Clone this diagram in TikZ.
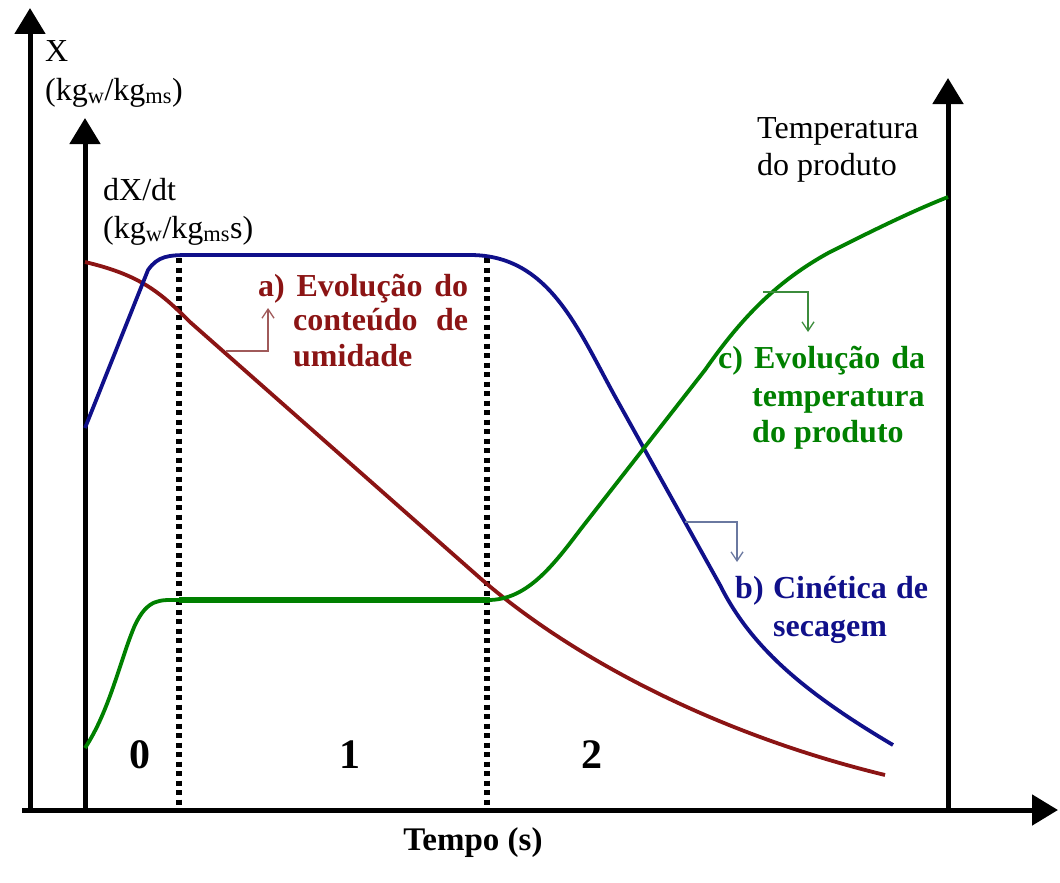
\documentclass[tikz,border=0pt]{standalone}
\usepackage{fontspec}
\setmainfont{Liberation Serif}
\usetikzlibrary{arrows.meta}
\definecolor{maroon}{HTML}{8B1414}
\definecolor{navy}{HTML}{10108A}
\definecolor{dgreen}{HTML}{008000}
\definecolor{maroonl}{HTML}{A05A5A}
\definecolor{greenl}{HTML}{3C8C3C}
\definecolor{navyl}{HTML}{6A78A0}
\tikzset{
  axis/.style={line width=5pt,-{Triangle[length=26pt,width=30pt]}},
  curve/.style={line width=3.8pt},
  divider/.style={line width=5.5pt,dash pattern=on 5pt off 4.5pt},
  lbl/.style={inner sep=0pt,anchor=base west,font=\fontsize{32}{36}\selectfont},
  blbl/.style={lbl,font=\fontsize{32}{36}\selectfont\bfseries},
  numlbl/.style={inner sep=0pt,anchor=base,font=\fontsize{42}{44}\selectfont\bfseries},
  pointer/.style={line width=1.3pt,-{Straight Barb[length=9pt,width=12pt]}}
}
\begin{document}
\begin{tikzpicture}[x=1pt,y=-1pt]
\useasboundingbox (0,0) rectangle (1060,883);
% axes
\coordinate (o1) at (30,810);
\coordinate (t1) at (30,8);
\coordinate (o2) at (85,810);
\coordinate (t2) at (85,118);
\coordinate (o3) at (948,810);
\coordinate (t3) at (948,78);
\coordinate (ox) at (22,810);
\coordinate (tx) at (1058,810);
\draw[axis] (o1) -- (t1);
\draw[axis] (o2) -- (t2);
\draw[axis] (o3) -- (t3);
\draw[axis] (ox) -- (tx);
% dividers
\coordinate (d1a) at (179,258);
\coordinate (d1b) at (179,808);
\coordinate (d2a) at (487,258);
\coordinate (d2b) at (487,808);
\draw[divider] (d1a) -- (d1b);
\draw[divider] (d2a) -- (d2b);
% red curve
\draw[curve,maroon] (85,262) .. controls (140,275) and (160,292) .. (190,322)
  -- (480,578) .. controls (560,648) and (700,730) .. (885,775);
% blue curve
\draw[curve,navy] (85,428) -- (148,270) .. controls (158,256) and (168,255) .. (190,255)
  -- (470,255) .. controls (550,255) and (578,330) .. (617,400)
  -- (720,585) .. controls (750,645) and (800,690) .. (893,745);
% green curve
\draw[curve,dgreen] (85,748) .. controls (110,710) and (120,660) .. (135,625)
  .. controls (148,598) and (160,600) .. (179,600);
\draw[dgreen,line width=6pt] (179,600) -- (490,600);
\draw[curve,dgreen] (488,600) .. controls (525,600) and (550,570) .. (580,530)
  -- (705,370) .. controls (740,320) and (775,282) .. (830,252)
  .. controls (870,232) and (910,212) .. (948,197);
% axis labels
\node[lbl] (xl1) at (45,62) {X};
\node[lbl] (xl2) at (45,100) {(kg\textsubscript{w}/kg\textsubscript{ms})};
\node[lbl] (dl1) at (103,200) {dX/dt};
\node[lbl] (dl2) at (103,238) {(kg\textsubscript{w}/kg\textsubscript{ms}s)};
\node[lbl] (tl1) at (757,138) {Temperatura};
\node[lbl] (tl2) at (757,175) {do produto};
% phase numbers
\node[numlbl] (p0) at (140,768) {0};
\node[numlbl] (p1) at (350,768) {1};
\node[numlbl] (p2) at (592,768) {2};
\node[blbl,anchor=base,font=\fontsize{33}{36}\selectfont\bfseries] (tempo) at (473,850) {Tempo (s)};
% label a
\node[blbl,maroon] (a1) at (258,296) {\makebox[210pt][s]{a) Evolução do}};
\node[blbl,maroon] (a2) at (293,330) {\makebox[175pt][s]{conteúdo de}};
\node[blbl,maroon] (a3) at (293,366) {umidade};
% label c
\node[blbl,dgreen] (c1) at (718,368) {\makebox[207pt][s]{c) Evolução da}};
\node[blbl,dgreen] (c2) at (752,406) {temperatura};
\node[blbl,dgreen] (c3) at (752,442) {do produto};
% label b
\node[blbl,navy] (b1) at (735,598) {\makebox[193pt][s]{b) Cinética de}};
\node[blbl,navy] (b2) at (773,636) {secagem};
% pointers
\coordinate (pa0) at (226,351);
\coordinate (pa1) at (268,351);
\coordinate (pa2) at (268,308);
\draw[pointer,maroonl] (pa0) -- (pa1) -- (pa2);
\coordinate (pc0) at (763,292);
\coordinate (pc1) at (808,292);
\coordinate (pc2) at (808,332);
\draw[pointer,greenl] (pc0) -- (pc1) -- (pc2);
\coordinate (pb0) at (685,522);
\coordinate (pb1) at (737,522);
\coordinate (pb2) at (737,562);
\draw[pointer,navyl] (pb0) -- (pb1) -- (pb2);
\end{tikzpicture}
\end{document}
